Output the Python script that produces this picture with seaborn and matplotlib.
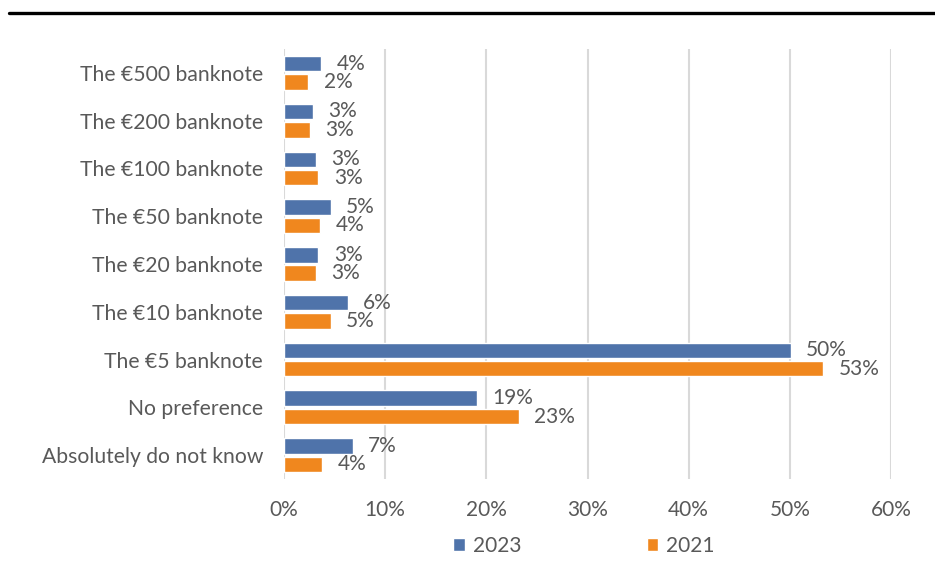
import matplotlib
matplotlib.use("Agg")
import matplotlib.pyplot as plt
import seaborn as sns
import pandas as pd
from matplotlib.lines import Line2D
from matplotlib.ticker import PercentFormatter

categories = [
    "The €500 banknote",
    "The €200 banknote",
    "The €100 banknote",
    "The €50 banknote",
    "The €20 banknote",
    "The €10 banknote",
    "The €5 banknote",
    "No preference",
    "Absolutely do not know",
]
years = ["2023", "2021"]
share_2023 = [3.7, 2.9, 3.2, 4.6, 3.4, 6.3, 50.1, 19.1, 6.8]
share_2021 = [2.4, 2.6, 3.4, 3.6, 3.2, 4.6, 53.3, 23.2, 3.8]
x_ticks = [0, 10, 20, 30, 40, 50, 60]

colors = {"2023": "#4F73AA", "2021": "#F0871E"}
text_color = "#595959"

df = pd.DataFrame({
    "category": categories * 2,
    "year": [years[0]] * len(categories) + [years[1]] * len(categories),
    "share": share_2023 + share_2021,
})

sns.set_theme(style="white")
plt.rcParams["font.family"] = ["Lato", "DejaVu Sans"]

fig = plt.figure(figsize=(9.35, 5.81), dpi=100)
left, right, top, bottom = 284, 891, 49, 479
ax = fig.add_axes([left / 935, 1 - bottom / 581, (right - left) / 935, (bottom - top) / 581])

sns.barplot(
    data=df, y="category", x="share", hue="year", order=categories,
    hue_order=years, palette=colors, orient="h", width=0.77, gap=0.16,
    ax=ax, legend=True, saturation=1,
)

for container in ax.containers:
    ax.bar_label(container, labels=[f"{v:.0f}%" for v in container.datavalues],
                 padding=11, fontsize=15, color=text_color)

ax.set_xlim(0, 60)
ax.set_xticks(x_ticks)
ax.xaxis.set_major_formatter(PercentFormatter(decimals=0))
ax.grid(axis="x", color="#D9D9D9", linewidth=1.5)
ax.set_axisbelow(True)
for side in ["top", "right", "bottom", "left"]:
    ax.spines[side].set_visible(False)
ax.set_xlabel("")
ax.set_ylabel("")
ax.tick_params(axis="x", colors=text_color, labelsize=15, pad=15, length=0)
ax.tick_params(axis="y", colors=text_color, labelsize=15.2, pad=15, length=0)

handles, labels = ax.get_legend_handles_labels()
ax.legend(handles, labels, loc="center",
          bbox_to_anchor=(584 / 935, (581 - 546) / 581),
          bbox_transform=fig.transFigure, ncol=2, frameon=False,
          fontsize=15, labelcolor=text_color, columnspacing=6.0,
          handlelength=0.55, handleheight=0.55, handletextpad=0.4)

fig.add_artist(Line2D([9 / 935, 1.0], [1 - 12.5 / 581] * 2, color="black",
                      linewidth=2.4, transform=fig.transFigure))

fig.savefig("out.png", dpi=100)
